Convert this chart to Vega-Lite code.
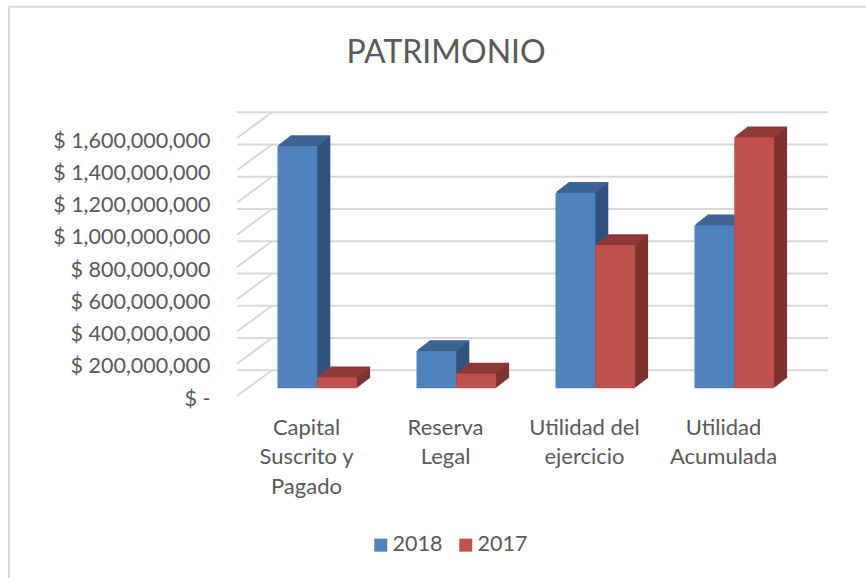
{"$schema":"https://vega.github.io/schema/vega-lite/v6.json","width":556,"height":258,"autosize":{"type":"none"},"padding":{"left":237,"top":138,"right":73,"bottom":182},"background":"white","config":{"font":"Lato","view":{"stroke":null},"axisX":{"title":null,"domain":false,"ticks":false,"grid":false,"labelAngle":0,"labelFontSize":22,"labelColor":"#595959","labelPadding":21,"labelLineHeight":29.5,"labelBaseline":"top","labelFont":"Lato"},"axisY":{"title":null,"domain":false,"ticks":false,"grid":false,"labelFontSize":21.5,"labelFont":"Lato","labelColor":"#595959","labelPadding":27,"labelOffset":3}},"title":{"text":"PATRIMONIO","fontSize":32,"font":"Lato","fontWeight":"normal","color":"#595959","anchor":"middle","dx":-69,"offset":-64},"datasets":{"barras":[{"cuenta":"Capital Suscrito y Pagado","serie":"2018","valor":1503000000},{"cuenta":"Capital Suscrito y Pagado","serie":"2017","valor":68000000},{"cuenta":"Reserva Legal","serie":"2018","valor":231000000},{"cuenta":"Reserva Legal","serie":"2017","valor":92000000},{"cuenta":"Utilidad del ejercicio","serie":"2018","valor":1213000000},{"cuenta":"Utilidad del ejercicio","serie":"2017","valor":889000000},{"cuenta":"Utilidad Acumulada","serie":"2018","valor":1011000000},{"cuenta":"Utilidad Acumulada","serie":"2017","valor":1557000000}],"ticks":[{"v":0},{"v":200000000},{"v":400000000},{"v":600000000},{"v":800000000},{"v":1000000000},{"v":1200000000},{"v":1400000000},{"v":1600000000}]},"encoding":{"x":{"field":"cuenta","type":"nominal","title":null,"sort":["Capital Suscrito y Pagado","Reserva Legal","Utilidad del ejercicio","Utilidad Acumulada"],"scale":{"domain":["Capital Suscrito y Pagado","Reserva Legal","Utilidad del ejercicio","Utilidad Acumulada"],"paddingInner":0,"paddingOuter":0},"axis":{"labelExpr":"datum.value=='Capital Suscrito y Pagado'?['Capital','Suscrito y','Pagado']:datum.value=='Reserva Legal'?['Reserva','Legal']:datum.value=='Utilidad del ejercicio'?['Utilidad del','ejercicio']:['Utilidad','Acumulada']"}},"y":{"field":"valor","type":"quantitative","stack":null,"title":null,"scale":{"domain":[0,1600000000],"nice":false},"axis":{"values":[0,200000000,400000000,600000000,800000000,1000000000,1200000000,1400000000,1600000000],"labelExpr":"datum.value==0?'$ -':'$ '+format(datum.value,',')"}}},"layer":[{"data":{"name":"barras"},"transform":[{"filter":"datum.serie=='2018' && datum.valor<0"}],"mark":{"type":"bar"}},{"data":{"values":[{"v":1600000000}]},"mark":{"type":"rule","color":"#d9d9d9","strokeWidth":2,"xOffset":-228,"x2Offset":629,"yOffset":-131.3,"y2Offset":-131.3},"encoding":{"x":{"datum":"Capital Suscrito y Pagado","bandPosition":0,"type":"nominal"},"x2":{"datum":"Capital Suscrito y Pagado","bandPosition":0},"y":{"field":"v","type":"quantitative"},"y2":{"field":"v"}}},{"data":{"values":[{"v":1600000000}]},"mark":{"type":"rule","color":"#d9d9d9","strokeWidth":2,"xOffset":-228,"x2Offset":-228,"yOffset":-131.3,"y2Offset":182},"encoding":{"x":{"datum":"Capital Suscrito y Pagado","bandPosition":0,"type":"nominal"},"x2":{"datum":"Capital Suscrito y Pagado","bandPosition":0},"y":{"field":"v","type":"quantitative"},"y2":{"datum":0}}},{"data":{"name":"ticks"},"mark":{"type":"rule","color":"#d9d9d9","strokeWidth":2,"xOffset":35,"x2Offset":35,"yOffset":-25.7,"y2Offset":-25.7},"encoding":{"x":null,"y":{"field":"v","type":"quantitative"}}},{"data":{"name":"ticks"},"mark":{"type":"rule","color":"#d9d9d9","strokeWidth":2,"x2Offset":35,"y2Offset":-25.7},"encoding":{"x":{"datum":"Capital Suscrito y Pagado","type":"nominal","bandPosition":0},"x2":{"datum":"Capital Suscrito y Pagado","bandPosition":0},"y":{"field":"v","type":"quantitative"},"y2":{"field":"v"}}},{"data":{"name":"barras"},"transform":[{"filter":"datum.serie=='2018'"}],"layer":[{"encoding":{"y2":{"datum":0}},"layer":[{"mark":{"type":"bar","width":{"band":0.2863},"color":"#31527c","xOffset":-7.8,"yOffset":-8.7,"y2Offset":-8.7}},{"mark":{"type":"bar","width":{"band":0.2863},"color":"#31527c","xOffset":-6.5,"yOffset":-9.7,"y2Offset":-9.7}},{"mark":{"type":"bar","width":{"band":0.2863},"color":"#31527c","xOffset":-5.2,"yOffset":-10.7,"y2Offset":-10.7}},{"mark":{"type":"bar","width":{"band":0.2863},"color":"#31527c","xOffset":-3.9,"yOffset":-11.7,"y2Offset":-11.7}},{"mark":{"type":"bar","width":{"band":0.2863},"color":"#31527c","xOffset":-2.6,"yOffset":-12.7,"y2Offset":-12.7}},{"mark":{"type":"bar","width":{"band":0.2863},"color":"#31527c","xOffset":-1.3,"yOffset":-13.7,"y2Offset":-13.7}},{"mark":{"type":"bar","width":{"band":0.2863},"color":"#31527c","xOffset":0,"yOffset":-14.7,"y2Offset":-14.7}},{"mark":{"type":"bar","width":{"band":0.2863},"color":"#31527c","xOffset":1.3,"yOffset":-15.7,"y2Offset":-15.7}},{"mark":{"type":"bar","width":{"band":0.2863},"color":"#31527c","xOffset":2.6,"yOffset":-16.7,"y2Offset":-16.7}},{"mark":{"type":"bar","width":{"band":0.2863},"color":"#31527c","xOffset":3.9,"yOffset":-17.7,"y2Offset":-17.7}}]},{"encoding":{"y2":{"field":"valor"}},"layer":[{"mark":{"type":"bar","width":{"band":0.2863},"stroke":"#3d6493","strokeWidth":1.5,"xOffset":-7.8,"yOffset":-8.7,"y2Offset":-8.7}},{"mark":{"type":"bar","width":{"band":0.2863},"stroke":"#3d6493","strokeWidth":1.5,"xOffset":-6.5,"yOffset":-9.7,"y2Offset":-9.7}},{"mark":{"type":"bar","width":{"band":0.2863},"stroke":"#3d6493","strokeWidth":1.5,"xOffset":-5.2,"yOffset":-10.7,"y2Offset":-10.7}},{"mark":{"type":"bar","width":{"band":0.2863},"stroke":"#3d6493","strokeWidth":1.5,"xOffset":-3.9,"yOffset":-11.7,"y2Offset":-11.7}},{"mark":{"type":"bar","width":{"band":0.2863},"stroke":"#3d6493","strokeWidth":1.5,"xOffset":-2.6,"yOffset":-12.7,"y2Offset":-12.7}},{"mark":{"type":"bar","width":{"band":0.2863},"stroke":"#3d6493","strokeWidth":1.5,"xOffset":-1.3,"yOffset":-13.7,"y2Offset":-13.7}},{"mark":{"type":"bar","width":{"band":0.2863},"stroke":"#3d6493","strokeWidth":1.5,"xOffset":0,"yOffset":-14.7,"y2Offset":-14.7}},{"mark":{"type":"bar","width":{"band":0.2863},"stroke":"#3d6493","strokeWidth":1.5,"xOffset":1.3,"yOffset":-15.7,"y2Offset":-15.7}},{"mark":{"type":"bar","width":{"band":0.2863},"stroke":"#3d6493","strokeWidth":1.5,"xOffset":2.6,"yOffset":-16.7,"y2Offset":-16.7}},{"mark":{"type":"bar","width":{"band":0.2863},"stroke":"#3d6493","strokeWidth":1.5,"xOffset":3.9,"yOffset":-17.7,"y2Offset":-17.7}}]}]},{"data":{"name":"barras"},"transform":[{"filter":"datum.serie=='2017'"}],"layer":[{"encoding":{"y2":{"datum":0}},"layer":[{"mark":{"type":"bar","width":{"band":0.2863},"color":"#7d3230","xOffset":32,"yOffset":-8.7,"y2Offset":-8.7}},{"mark":{"type":"bar","width":{"band":0.2863},"color":"#7d3230","xOffset":33.3,"yOffset":-9.7,"y2Offset":-9.7}},{"mark":{"type":"bar","width":{"band":0.2863},"color":"#7d3230","xOffset":34.6,"yOffset":-10.7,"y2Offset":-10.7}},{"mark":{"type":"bar","width":{"band":0.2863},"color":"#7d3230","xOffset":35.9,"yOffset":-11.7,"y2Offset":-11.7}},{"mark":{"type":"bar","width":{"band":0.2863},"color":"#7d3230","xOffset":37.2,"yOffset":-12.7,"y2Offset":-12.7}},{"mark":{"type":"bar","width":{"band":0.2863},"color":"#7d3230","xOffset":38.5,"yOffset":-13.7,"y2Offset":-13.7}},{"mark":{"type":"bar","width":{"band":0.2863},"color":"#7d3230","xOffset":39.8,"yOffset":-14.7,"y2Offset":-14.7}},{"mark":{"type":"bar","width":{"band":0.2863},"color":"#7d3230","xOffset":41.1,"yOffset":-15.7,"y2Offset":-15.7}},{"mark":{"type":"bar","width":{"band":0.2863},"color":"#7d3230","xOffset":42.4,"yOffset":-16.7,"y2Offset":-16.7}},{"mark":{"type":"bar","width":{"band":0.2863},"color":"#7d3230","xOffset":43.7,"yOffset":-17.7,"y2Offset":-17.7}}]},{"encoding":{"y2":{"field":"valor"}},"layer":[{"mark":{"type":"bar","width":{"band":0.2863},"stroke":"#8e3a38","strokeWidth":1.5,"xOffset":32,"yOffset":-8.7,"y2Offset":-8.7}},{"mark":{"type":"bar","width":{"band":0.2863},"stroke":"#8e3a38","strokeWidth":1.5,"xOffset":33.3,"yOffset":-9.7,"y2Offset":-9.7}},{"mark":{"type":"bar","width":{"band":0.2863},"stroke":"#8e3a38","strokeWidth":1.5,"xOffset":34.6,"yOffset":-10.7,"y2Offset":-10.7}},{"mark":{"type":"bar","width":{"band":0.2863},"stroke":"#8e3a38","strokeWidth":1.5,"xOffset":35.9,"yOffset":-11.7,"y2Offset":-11.7}},{"mark":{"type":"bar","width":{"band":0.2863},"stroke":"#8e3a38","strokeWidth":1.5,"xOffset":37.2,"yOffset":-12.7,"y2Offset":-12.7}},{"mark":{"type":"bar","width":{"band":0.2863},"stroke":"#8e3a38","strokeWidth":1.5,"xOffset":38.5,"yOffset":-13.7,"y2Offset":-13.7}},{"mark":{"type":"bar","width":{"band":0.2863},"stroke":"#8e3a38","strokeWidth":1.5,"xOffset":39.8,"yOffset":-14.7,"y2Offset":-14.7}},{"mark":{"type":"bar","width":{"band":0.2863},"stroke":"#8e3a38","strokeWidth":1.5,"xOffset":41.1,"yOffset":-15.7,"y2Offset":-15.7}},{"mark":{"type":"bar","width":{"band":0.2863},"stroke":"#8e3a38","strokeWidth":1.5,"xOffset":42.4,"yOffset":-16.7,"y2Offset":-16.7}},{"mark":{"type":"bar","width":{"band":0.2863},"stroke":"#8e3a38","strokeWidth":1.5,"xOffset":43.7,"yOffset":-17.7,"y2Offset":-17.7}}]}]},{"data":{"name":"barras"},"encoding":{"y2":{"datum":0},"color":{"field":"serie","type":"nominal","sort":["2018","2017"],"scale":{"domain":["2018","2017"],"range":["#4f81bd","#c0504d"]},"legend":{"orient":"none","legendX":133,"legendY":396,"direction":"horizontal","title":null,"symbolType":"square","symbolSize":169,"symbolStrokeWidth":0,"labelOffset":1,"labelFontSize":21.5,"labelFont":"Lato","labelColor":"#595959","columnPadding":12}}},"layer":[{"transform":[{"filter":"datum.serie=='2018'"}],"mark":{"type":"bar","width":{"band":0.2863},"xOffset":-9.1,"yOffset":-7.7,"y2Offset":-7.7}},{"transform":[{"filter":"datum.serie=='2017'"}],"mark":{"type":"bar","width":{"band":0.2863},"xOffset":30.7,"yOffset":-7.7,"y2Offset":-7.7}}]}]}
